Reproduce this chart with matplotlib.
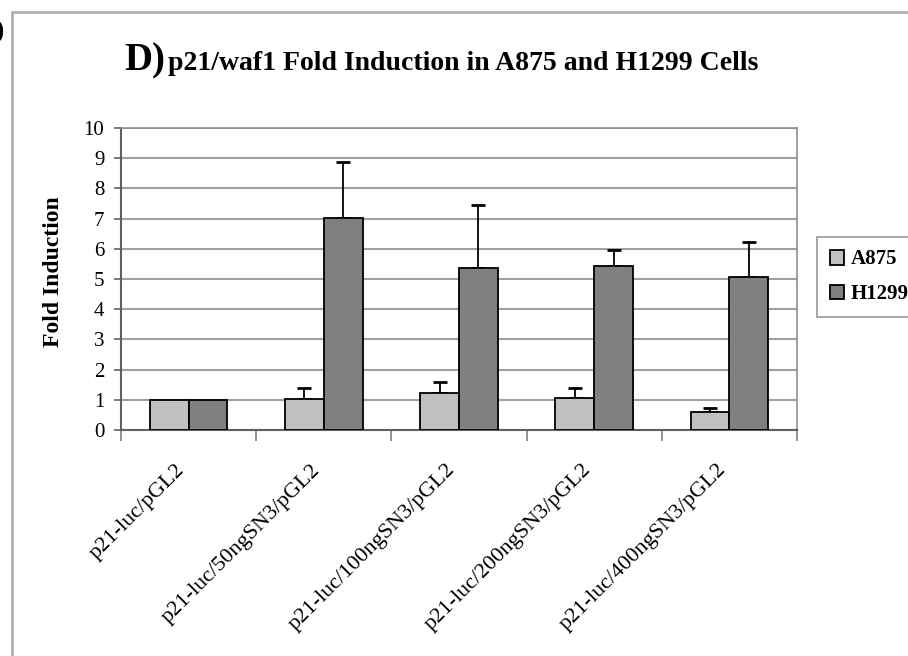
import numpy as np
import matplotlib
matplotlib.use("Agg")
import matplotlib.pyplot as plt
from matplotlib.patches import Rectangle
from matplotlib.transforms import ScaledTranslation

# data
categories = ["p21-luc/pGL2", "p21-luc/50ngSN3/pGL2", "p21-luc/100ngSN3/pGL2",
              "p21-luc/200ngSN3/pGL2", "p21-luc/400ngSN3/pGL2"]
a875 = [1.0, 1.01, 1.24, 1.06, 0.59]
a875_err = [0.0, 0.38, 0.35, 0.33, 0.15]
h1299 = [1.0, 7.01, 5.38, 5.44, 5.06]
h1299_err = [0.0, 1.88, 2.08, 0.53, 1.17]
series_names = ["A875", "H1299"]

plt.rcParams["font.family"] = ["Liberation Serif", "DejaVu Serif"]

fig = plt.figure(figsize=(9.08, 6.56), dpi=100)
ax = fig.add_axes([121 / 908, 1 - 430 / 656, 676 / 908, 302 / 656])

x = np.arange(len(categories))
w = 0.287
b1 = ax.bar(x - w / 2, a875, w, color="#c0c0c0", edgecolor="black", linewidth=1.3, zorder=3,
            label=series_names[0])
b2 = ax.bar(x + w / 2, h1299, w, color="#808080", edgecolor="black", linewidth=1.3, zorder=3,
            label=series_names[1])

# only positive error bars, skip the control group
m = np.array(a875_err) > 0
ax.errorbar((x - w / 2)[m], np.array(a875)[m], yerr=[np.zeros(m.sum()), np.array(a875_err)[m]],
            fmt="none", ecolor="black", elinewidth=1.3, capsize=5, capthick=2, zorder=2)
m = np.array(h1299_err) > 0
ax.errorbar((x + w / 2)[m], np.array(h1299)[m], yerr=[np.zeros(m.sum()), np.array(h1299_err)[m]],
            fmt="none", ecolor="black", elinewidth=1.3, capsize=5, capthick=2, zorder=2)

ax.set_xlim(-0.5, len(categories) - 0.5)
ax.set_ylim(0, 10)
ax.set_yticks(range(11))
ax.tick_params(axis="y", labelsize=15, length=5, width=1.2, color="#606060", pad=7)
ax.yaxis.grid(True, color="#a0a0a0", linewidth=1.5, zorder=0)

# category boundaries as ticks, labels at centres
ax.set_xticks(np.arange(-0.5, len(categories)), minor=False)
ax.set_xticklabels([])
ax.tick_params(axis="x", which="major", length=8, width=1.2, color="#808080")
ax.set_xticks(x, minor=True)
ax.set_xticklabels(categories, minor=True, rotation=45, ha="right", va="top",
                   rotation_mode="anchor", fontsize=16)
ax.tick_params(axis="x", which="minor", length=0, pad=22)
shift = ScaledTranslation(-0.13, 0, fig.dpi_scale_trans)
for lab in ax.get_xticklabels(minor=True):
    lab.set_transform(lab.get_transform() + shift)

for s in ["top", "right"]:
    ax.spines[s].set_color("#909090")
    ax.spines[s].set_linewidth(1.2)
for s in ["left", "bottom"]:
    ax.spines[s].set_color("#606060")
    ax.spines[s].set_linewidth(1.5)

ax.set_ylabel("Fold Induction", fontsize=17, fontweight="bold")
ax.yaxis.set_label_coords(-0.085, 0.523)

leg = fig.legend(handles=[b1, b2], loc="upper left", bbox_to_anchor=(817 / 908, 1 - 237 / 656),
                 prop={"weight": "bold", "size": 15}, frameon=True, fancybox=False,
                 edgecolor="#808080", handlelength=0.7, handleheight=0.7, handletextpad=0.3,
                 borderpad=0.6, labelspacing=0.7, borderaxespad=0)
leg.get_frame().set_linewidth(1.2)

# title
fig.text(124 / 908, 1 - 70 / 656, "D)", fontsize=28, fontweight="bold", va="baseline", ha="left")
fig.text(168 / 908, 1 - 70 / 656, "p21/waf1 Fold Induction in A875 and H1299 Cells",
         fontsize=20, fontweight="bold", va="baseline", ha="left")

# outer frame of the panel and cut-off bracket from the neighbour panel
fig.patches.append(Rectangle((12 / 908, -0.1), 1.2, 1 - 12 / 656 + 0.1, transform=fig.transFigure,
                             fill=False, edgecolor="#b0b0b0", linewidth=2, clip_on=False))
fig.text(-0.006, 1 - 32 / 656, ")", fontsize=20, fontweight="bold", va="center", ha="left")

fig.savefig("out.png", dpi=100)
